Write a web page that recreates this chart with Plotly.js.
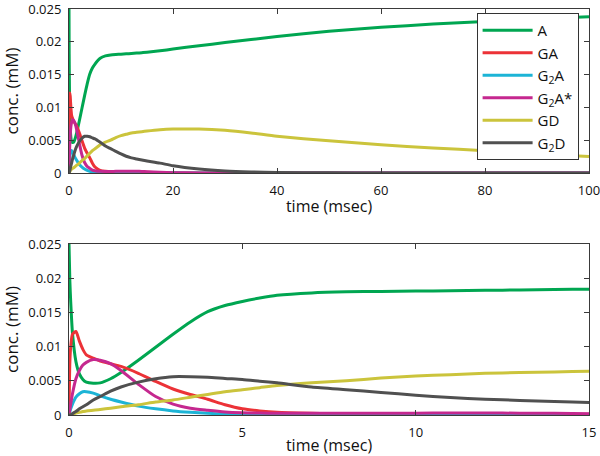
<!DOCTYPE html>
<html>
<head>
<meta charset="utf-8">
<script src="https://cdn.plot.ly/plotly-3.0.1.min.js"></script>
<style>html,body{margin:0;padding:0;background:#fff;}#chart{width:600px;height:456px;}</style>
</head>
<body>
<div id="chart"></div>
<script>
// time (msec)
var time = [0, 0.025, 0.05, 0.1, 0.2, 0.3, 0.4, 0.5, 0.7, 0.9, 1.2, 1.5, 2, 2.5, 3, 3.5, 4, 4.5, 5, 5.5, 6, 7, 8, 9, 10, 11, 12, 13, 14, 15, 17.5, 20, 25, 30, 35, 40, 50, 60, 70, 80, 90, 100];
// concentrations (mM)
var concA = [0.025, 0.0195, 0.0165, 0.0120, 0.0078, 0.0060, 0.0052, 0.0048, 0.00465, 0.0047, 0.0053, 0.0062, 0.0080, 0.0099, 0.0118, 0.0136, 0.0151, 0.0160, 0.0166, 0.0171, 0.0175, 0.01785, 0.0180, 0.01807, 0.01812, 0.01817, 0.01822, 0.01828, 0.01834, 0.0184, 0.01862, 0.0189, 0.0194, 0.01988, 0.02035, 0.0208, 0.0216, 0.0222, 0.0227, 0.0231, 0.0235, 0.0238];
var concGA = [0, 0.0078, 0.0100, 0.0118, 0.0122, 0.0108, 0.0096, 0.0088, 0.0083, 0.0079, 0.0075, 0.0071, 0.0061, 0.0049, 0.0038, 0.0030, 0.0023, 0.0015, 0.0009, 0.0006, 0.0004, 0.00025, 0.00015, 0.0001, 0.0001, 0.0001, 0.0001, 0.0001, 0.0001, 0.0001, 0.00005, 0.00003, 0, 0, 0, 0, 0, 0, 0, 0, 0, 0];
var concG2A = [0, 0.0005, 0.0009, 0.0016, 0.0026, 0.0031, 0.0034, 0.0034, 0.0032, 0.0028, 0.0023, 0.0019, 0.0013, 0.0009, 0.0006, 0.0004, 0.00025, 0.00015, 0.0001, 0.00008, 0.00007, 0.00007, 0.00008, 0.0001, 0.00012, 0.00012, 0.0001, 0.00008, 0.00006, 0.00005, 0.00003, 0.00002, 0, 0, 0, 0, 0, 0, 0, 0, 0, 0];
var concG2Astar = [0, 0.0008, 0.0016, 0.0031, 0.0053, 0.0065, 0.0073, 0.0077, 0.0081, 0.0080, 0.0075, 0.0065, 0.0045, 0.0027, 0.0016, 0.0010, 0.0007, 0.00045, 0.00033, 0.00028, 0.00025, 0.00024, 0.00024, 0.00025, 0.00027, 0.00028, 0.00028, 0.00027, 0.00024, 0.0002, 0.0001, 0.00005, 0, 0, 0, 0, 0, 0, 0, 0, 0, 0];
var concGD = [0, 0.00002, 0.00005, 0.0001, 0.0003, 0.0004, 0.0005, 0.0006, 0.0007, 0.0008, 0.0010, 0.0012, 0.0015, 0.0019, 0.0022, 0.0026, 0.0030, 0.0034, 0.0037, 0.0040, 0.0043, 0.0047, 0.0050, 0.0054, 0.0057, 0.0059, 0.0061, 0.0062, 0.0063, 0.0064, 0.0066, 0.0067, 0.0067, 0.0065, 0.0061, 0.0056, 0.0049, 0.0043, 0.0038, 0.0034, 0.0029, 0.0025];
var concG2D = [0, 0.00002, 0.00005, 0.0002, 0.0005, 0.0009, 0.0012, 0.0015, 0.0022, 0.0027, 0.0035, 0.0041, 0.0048, 0.0053, 0.0056, 0.0056, 0.00553, 0.00535, 0.0052, 0.00495, 0.0047, 0.0041, 0.0037, 0.0033, 0.0029, 0.00255, 0.0023, 0.00213, 0.00197, 0.00183, 0.0015, 0.0011, 0.0006, 0.0003, 0.00015, 0.00007, 0.00002, 0, 0, 0, 0, 0];

var seriesNames = ['A', 'GA', 'G<sub>2</sub>A', 'G<sub>2</sub>A*', 'GD', 'G<sub>2</sub>D'];
var seriesData = [concA, concGA, concG2A, concG2Astar, concGD, concG2D];
var seriesColors = ['#00a651', '#ec3237', '#1cb4d6', '#c5288f', '#cbc43c', '#505050'];

var traces = [];
[['x', 'y', true], ['x2', 'y2', false]].forEach(function (ax) {
  seriesData.forEach(function (vals, i) {
    traces.push({
      x: time, y: vals, type: 'scatter', mode: 'lines',
      name: seriesNames[i], xaxis: ax[0], yaxis: ax[1], showlegend: ax[2],
      line: {color: seriesColors[i], width: 3, shape: 'spline', smoothing: 0.6}
    });
  });
});

var fontFam = 'Open Sans, sans-serif';
var axBase = {
  showline: true, mirror: 'allticks', linecolor: '#3a3a3a', linewidth: 1,
  ticks: 'inside', ticklen: 5, tickcolor: '#3a3a3a', tickwidth: 1,
  showgrid: false, zeroline: false, ticklabeloverflow: 'allow',
  tickfont: {family: fontFam, size: 13, color: '#111'}
};
function ax(extra) { return Object.assign({}, axBase, extra); }
var yTicks = [0, 0.005, 0.01, 0.015, 0.02, 0.025];
var yTickText = ['0', '0.005', '0.01', '0.015', '0.02', '0.025'];

var layout = {
  width: 600, height: 456,
  margin: {l: 69, r: 11, t: 9, b: 41},
  paper_bgcolor: '#fff', plot_bgcolor: '#fff',
  font: {family: fontFam, color: '#111'},
  showlegend: true,
  xaxis: ax({domain: [0, 1], anchor: 'y', range: [0, 100], tickvals: [0, 20, 40, 60, 80, 100], ticklabelstandoff: 5,
    title: {text: 'time (msec)', font: {family: fontFam, size: 16, weight: 400}, standoff: 3}}),
  yaxis: ax({domain: [0.5961, 1], anchor: 'x', range: [0, 0.025], tickvals: yTicks, ticktext: yTickText, ticklabelstandoff: 4,
    title: {text: 'conc. (mM)', font: {family: fontFam, size: 17, weight: 400}, standoff: 5}}),
  xaxis2: ax({domain: [0, 1], anchor: 'y2', range: [0, 15], tickvals: [0, 5, 10, 15], ticklabelstandoff: 5,
    title: {text: 'time (msec)', font: {family: fontFam, size: 16, weight: 400}, standoff: 8}}),
  yaxis2: ax({domain: [0, 0.4212], anchor: 'x2', range: [0, 0.025], tickvals: yTicks, ticktext: yTickText, ticklabelstandoff: 4,
    title: {text: 'conc. (mM)', font: {family: fontFam, size: 17, weight: 400}, standoff: 5}}),
  legend: {
    x: 0.98, xanchor: 'right', y: 0.99, yanchor: 'top',
    bgcolor: '#fff', bordercolor: '#333', borderwidth: 1,
    font: {family: fontFam, size: 15, color: '#111'},
    itemwidth: 50, tracegroupgap: 0
  }
};

Plotly.newPlot('chart', traces, layout, {staticPlot: true, displayModeBar: false});
</script>
</body>
</html>
